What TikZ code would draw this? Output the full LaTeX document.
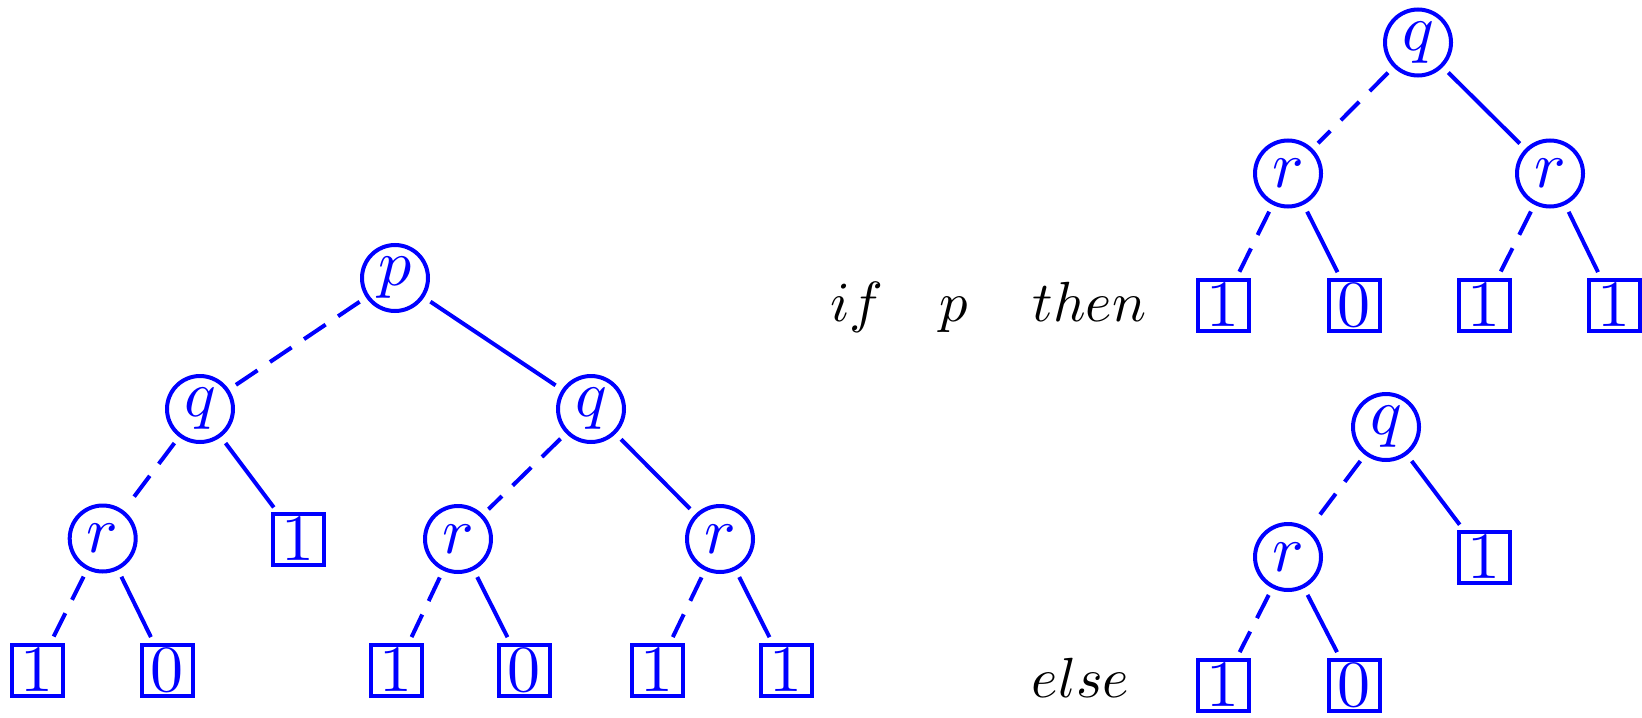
\documentclass[tikz,border=0pt]{standalone}
\usepackage{graphicx}
\definecolor{nodeblue}{RGB}{0,0,255}
\newcommand{\nodetxt}[1]{\scalebox{3.3}{$#1$}}
\newcommand{\labtxt}[1]{\scalebox{2.83}{$#1$}}
\tikzset{
  vnode/.style={circle, draw=nodeblue, line width=2pt, minimum size=33pt,
    inner sep=0pt, text=nodeblue},
  leafbox/.style={rectangle, draw=nodeblue, line width=2pt, minimum width=25.5pt,
    minimum height=25.5pt, inner sep=0pt, text=nodeblue},
  hiedge/.style={draw=nodeblue, line width=2pt, shorten <=3.8pt, shorten >=3.8pt},
  hiedgebox/.style={draw=nodeblue, line width=2pt, shorten <=3.8pt, shorten >=3pt},
  loedge/.style={hiedge, dash pattern=on 13pt off 7.5pt},
  loedgebox/.style={hiedgebox, dash pattern=on 13pt off 7.5pt},
  lab/.style={anchor=base, inner sep=0pt},
}
\begin{document}
\begin{tikzpicture}[x=0.5pt, y=-0.5pt]
\useasboundingbox (0,0) rectangle (1642,717);
% left tree
\node[vnode] (p) at (395,278) {\nodetxt{p}};
\node[vnode] (qL) at (200,409) {\nodetxt{q}};
\node[vnode] (qR) at (591,409) {\nodetxt{q}};
\node[vnode] (r1) at (102.7,538.5) {\nodetxt{r}};
\node[leafbox] (b1) at (298,539.7) {\nodetxt{1}};
\node[vnode] (r2) at (458,539) {\nodetxt{r}};
\node[vnode] (r3) at (720,539) {\nodetxt{r}};
\node[leafbox] (L1) at (37,670) {\nodetxt{1}};
\node[leafbox] (L2) at (167,670) {\nodetxt{0}};
\node[leafbox] (L3) at (396,670) {\nodetxt{1}};
\node[leafbox] (L4) at (524,670) {\nodetxt{0}};
\node[leafbox] (L5) at (657,670) {\nodetxt{1}};
\node[leafbox] (L6) at (786,670) {\nodetxt{1}};
\draw[loedge] (p) -- (qL);
\draw[hiedge] (p) -- (qR);
\draw[loedge] (qL) -- (r1);
\draw[hiedgebox] (qL) -- (b1);
\draw[loedge] (qR) -- (r2);
\draw[hiedge] (qR) -- (r3);
\draw[loedgebox] (r1) -- (L1);
\draw[hiedgebox] (r1) -- (L2);
\draw[loedgebox] (r2) -- (L3);
\draw[hiedgebox] (r2) -- (L4);
\draw[loedgebox] (r3) -- (L5);
\draw[hiedgebox] (r3) -- (L6);
% labels
\node[lab] (tif) at (856.7,321) {\labtxt{if}};
\node[lab] (tp) at (953.3,321) {\labtxt{p}};
\node[lab] (tthen) at (1089.5,321) {\labtxt{then}};
\node[lab] (telse) at (1080.5,697) {\labtxt{else}};
% then tree
\node[vnode] (tq) at (1418,42.5) {\nodetxt{q}};
\node[vnode] (trA) at (1288,173.5) {\nodetxt{r}};
\node[vnode] (trB) at (1550,173.5) {\nodetxt{r}};
\node[leafbox] (T1) at (1223,305) {\nodetxt{1}};
\node[leafbox] (T2) at (1354,305) {\nodetxt{0}};
\node[leafbox] (T3) at (1484,305) {\nodetxt{1}};
\node[leafbox] (T4) at (1614,305) {\nodetxt{1}};
\draw[loedge] (tq) -- (trA);
\draw[hiedge] (tq) -- (trB);
\draw[loedgebox] (trA) -- (T1);
\draw[hiedgebox] (trA) -- (T2);
\draw[loedgebox] (trB) -- (T3);
\draw[hiedgebox] (trB) -- (T4);
% else tree
\node[vnode] (eq) at (1386,427) {\nodetxt{q}};
\node[vnode] (er) at (1288,557) {\nodetxt{r}};
\node[leafbox] (eb) at (1484,557) {\nodetxt{1}};
\node[leafbox] (E1) at (1223,685) {\nodetxt{1}};
\node[leafbox] (E2) at (1354,685) {\nodetxt{0}};
\draw[loedge] (eq) -- (er);
\draw[hiedgebox] (eq) -- (eb);
\draw[loedgebox] (er) -- (E1);
\draw[hiedgebox] (er) -- (E2);
\end{tikzpicture}
\end{document}
